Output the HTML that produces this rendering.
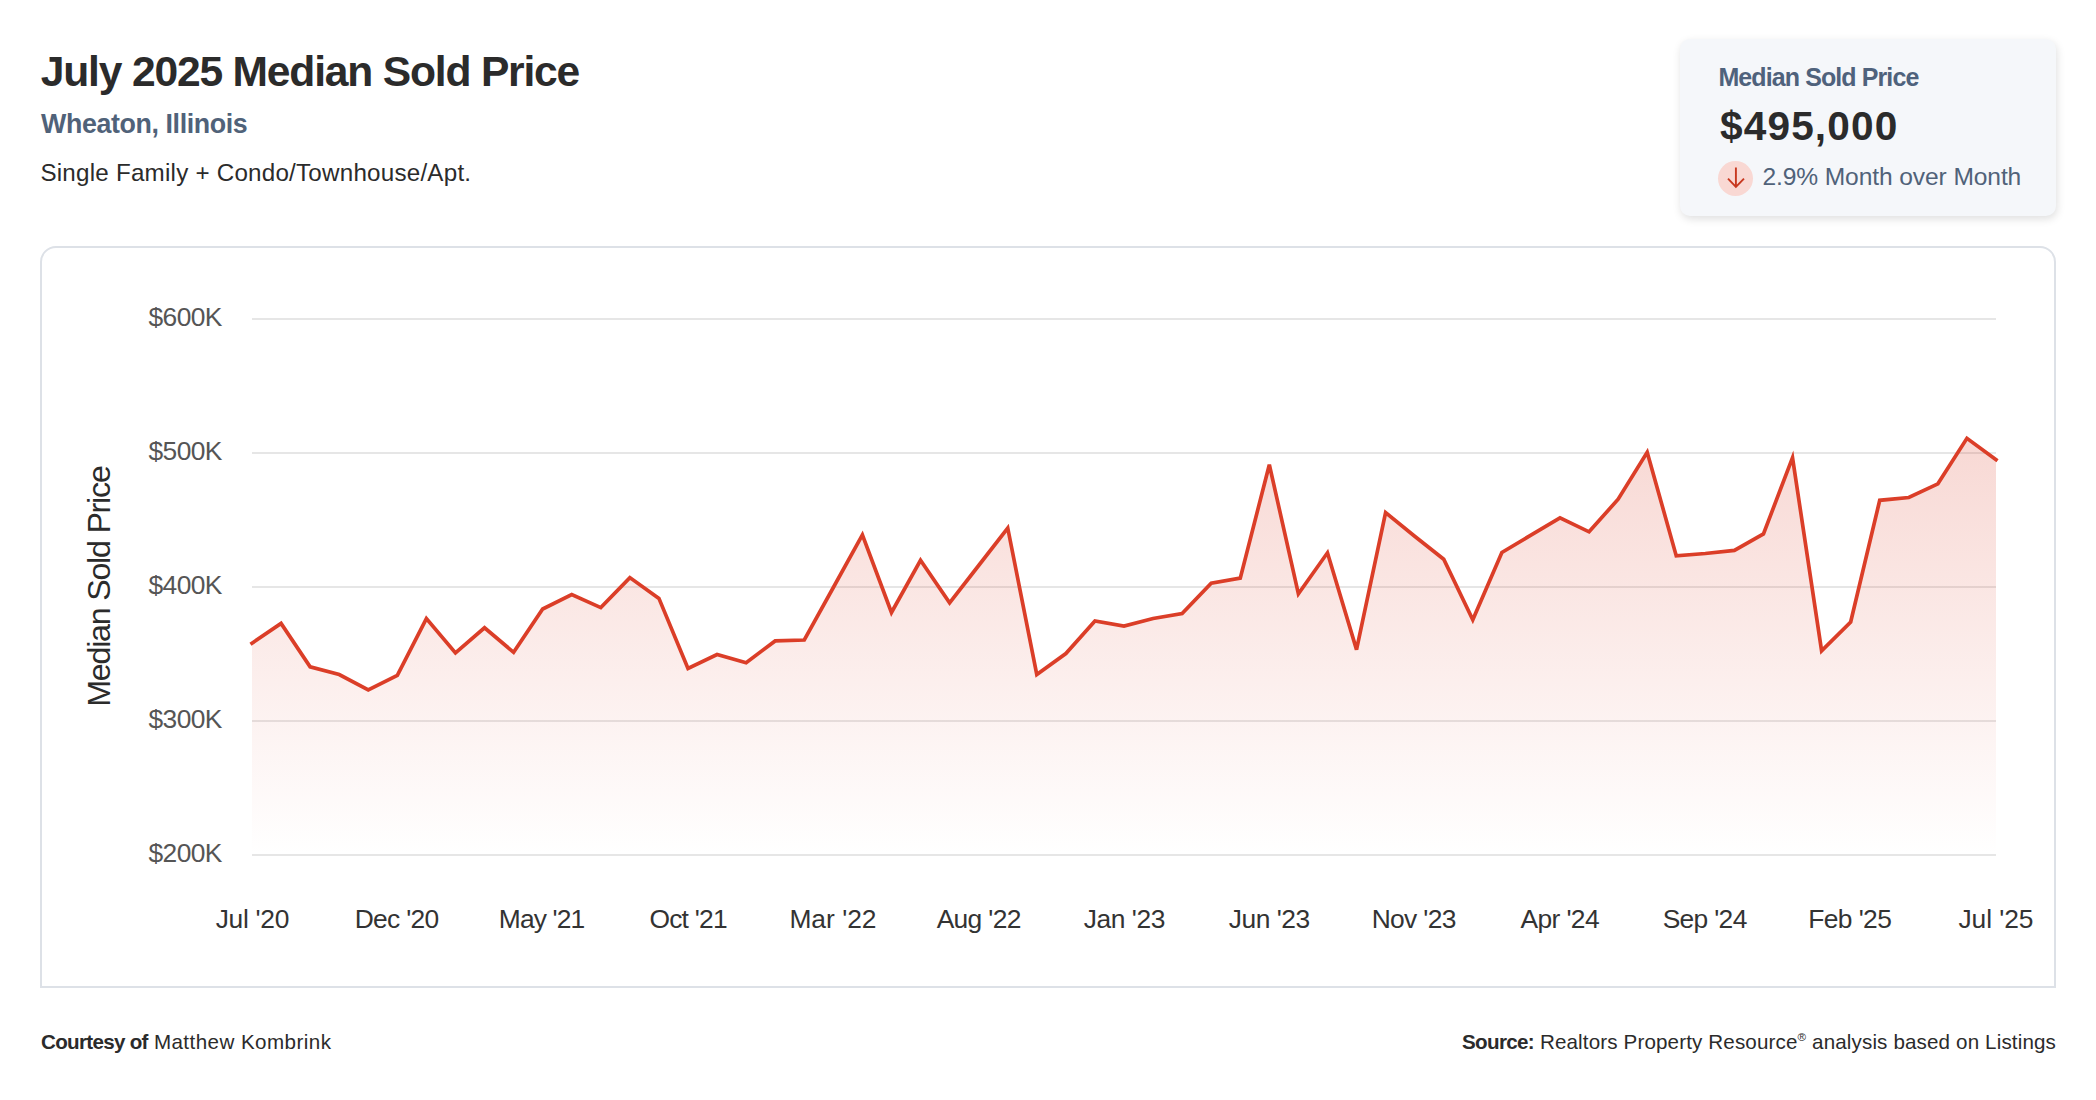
<!DOCTYPE html>
<html lang="en">
<head>
<meta charset="utf-8">
<title>July 2025 Median Sold Price - Wheaton, Illinois</title>
<style>
html,body{margin:0;padding:0;background:#fff;}
body{width:2096px;height:1100px;position:relative;overflow:hidden;
  font-family:"Liberation Sans",Arial,Helvetica,sans-serif;-webkit-font-smoothing:antialiased;}
.t{position:absolute;white-space:nowrap;margin:0;padding:0;}
#card{position:absolute;left:1680px;top:39px;width:376px;height:177px;
  background:#f5f7fa;border-radius:10px;box-shadow:1px 3px 8px rgba(0,0,0,0.13);}
#chartbox{position:absolute;left:40px;top:246px;width:2016px;height:742px;box-sizing:border-box;
  border:2px solid #dde1e7;border-radius:16px 16px 0 0;background:#fff;}
#badge{position:absolute;width:35px;height:35px;border-radius:50%;background:#f9d8d3;}
svg{position:absolute;left:0;top:0;overflow:visible;}
svg text{font-family:"Liberation Sans",Arial,Helvetica,sans-serif;}
</style>
</head>
<body>

<header>
<div id="title" class="t" style="left:40.80px;top:49.74px;font-size:42.60px;line-height:42.60px;font-weight:700;color:#2b2b2b;letter-spacing:-1.193px;">July 2025 Median Sold Price</div>
<div id="sub" class="t" style="left:41.00px;top:111.11px;font-size:26.80px;line-height:26.80px;font-weight:700;color:#506279;letter-spacing:-0.389px;">Wheaton, Illinois</div>
<div id="ptype" class="t" style="left:40.40px;top:160.61px;font-size:24.20px;line-height:24.20px;font-weight:400;color:#2b2b2b;letter-spacing:0.223px;">Single Family + Condo/Townhouse/Apt.</div>
</header>
<section id="card">
<div id="clabel" class="t" style="left:38.40px;top:25.74px;font-size:25.00px;line-height:25.00px;font-weight:700;color:#4f627c;letter-spacing:-0.900px;">Median Sold Price</div>
<div id="cvalue" class="t" style="left:40.00px;top:67.33px;font-size:40.60px;line-height:40.60px;font-weight:700;color:#2b2b2b;letter-spacing:1.143px;">$495,000</div>
<div id="badge" style="left:38.30px;top:121.80px"><svg width="35" height="35" viewBox="1718.3 160.8 35 35" aria-hidden="true"><path d="M1736.2 167.2 V186.6 M1728.3 178.4 L1736.2 186.6 L1744.3 178.4" fill="none" stroke="#c8381f" stroke-width="1.9" stroke-linecap="butt" stroke-linejoin="miter"/></svg></div>
<div id="cchange" class="t" style="left:82.40px;top:125.68px;font-size:24.60px;line-height:24.60px;font-weight:400;color:#506279;letter-spacing:-0.110px;">2.9% Month over Month</div>
</section>
<main id="chartbox">
<svg id="chart" style="left:-42px;top:-248px" width="2096" height="1100" viewBox="0 0 2096 1100" role="img" aria-label="Median Sold Price chart">
<defs><linearGradient id="g" gradientUnits="userSpaceOnUse" x1="0" y1="439" x2="0" y2="855"><stop offset="0" stop-color="#db3e28" stop-opacity="0.2"/><stop offset="1" stop-color="#db3e28" stop-opacity="0"/></linearGradient></defs>
<line x1="252" x2="1996" y1="319" y2="319" stroke="#e6e6e6" stroke-width="2"/>
<line x1="252" x2="1996" y1="453" y2="453" stroke="#e6e6e6" stroke-width="2"/>
<line x1="252" x2="1996" y1="587" y2="587" stroke="#e6e6e6" stroke-width="2"/>
<line x1="252" x2="1996" y1="721" y2="721" stroke="#e6e6e6" stroke-width="2"/>
<line x1="252" x2="1996" y1="855" y2="855" stroke="#e6e6e6" stroke-width="2"/>
<path d="M252.00 643.20 L281.07 623.40 L310.13 666.90 L339.20 674.50 L368.27 690.00 L397.33 675.40 L426.40 618.60 L455.47 652.90 L484.53 627.80 L513.60 652.30 L542.67 609.00 L571.73 594.50 L600.80 607.60 L629.87 577.60 L658.93 598.40 L688.00 668.40 L717.07 654.50 L746.13 662.70 L775.20 640.90 L804.27 640.00 L833.33 587.50 L862.40 534.80 L891.47 612.50 L920.53 560.30 L949.60 602.80 L978.67 565.50 L1007.73 528.00 L1036.80 674.60 L1065.87 653.60 L1094.93 620.90 L1124.00 626.00 L1153.07 618.50 L1182.13 613.60 L1211.20 583.30 L1240.27 578.10 L1269.33 464.70 L1298.40 593.80 L1327.47 552.80 L1356.53 649.60 L1385.60 512.60 L1414.67 536.20 L1443.73 559.20 L1472.80 619.70 L1501.87 552.50 L1530.93 535.10 L1560.00 517.80 L1589.07 531.80 L1618.13 499.20 L1647.20 452.20 L1676.27 555.90 L1705.33 553.50 L1734.40 550.40 L1763.47 533.90 L1792.53 457.70 L1821.60 650.90 L1850.67 622.00 L1879.73 500.30 L1908.80 497.50 L1937.87 483.80 L1966.93 438.30 L1996.00 459.60 L1996.00 855 L252.00 855 Z" fill="url(#g)" stroke="none"/>
<path d="M252.00 643.20 L281.07 623.40 L310.13 666.90 L339.20 674.50 L368.27 690.00 L397.33 675.40 L426.40 618.60 L455.47 652.90 L484.53 627.80 L513.60 652.30 L542.67 609.00 L571.73 594.50 L600.80 607.60 L629.87 577.60 L658.93 598.40 L688.00 668.40 L717.07 654.50 L746.13 662.70 L775.20 640.90 L804.27 640.00 L833.33 587.50 L862.40 534.80 L891.47 612.50 L920.53 560.30 L949.60 602.80 L978.67 565.50 L1007.73 528.00 L1036.80 674.60 L1065.87 653.60 L1094.93 620.90 L1124.00 626.00 L1153.07 618.50 L1182.13 613.60 L1211.20 583.30 L1240.27 578.10 L1269.33 464.70 L1298.40 593.80 L1327.47 552.80 L1356.53 649.60 L1385.60 512.60 L1414.67 536.20 L1443.73 559.20 L1472.80 619.70 L1501.87 552.50 L1530.93 535.10 L1560.00 517.80 L1589.07 531.80 L1618.13 499.20 L1647.20 452.20 L1676.27 555.90 L1705.33 553.50 L1734.40 550.40 L1763.47 533.90 L1792.53 457.70 L1821.60 650.90 L1850.67 622.00 L1879.73 500.30 L1908.80 497.50 L1937.87 483.80 L1966.93 438.30 L1996.00 459.60" fill="none" stroke="#db3e28" stroke-width="3.7" stroke-linejoin="miter" stroke-miterlimit="3.986" stroke-linecap="square"/>
<text id="yt0" x="221.65" y="325.60" text-anchor="end" font-size="26.4" fill="#555555" letter-spacing="-0.650">$600K</text>
<text id="yt1" x="221.65" y="459.60" text-anchor="end" font-size="26.4" fill="#555555" letter-spacing="-0.650">$500K</text>
<text id="yt2" x="221.65" y="593.60" text-anchor="end" font-size="26.4" fill="#555555" letter-spacing="-0.650">$400K</text>
<text id="yt3" x="221.65" y="727.60" text-anchor="end" font-size="26.4" fill="#555555" letter-spacing="-0.650">$300K</text>
<text id="yt4" x="221.65" y="861.60" text-anchor="end" font-size="26.4" fill="#555555" letter-spacing="-0.650">$200K</text>
<text id="xl0" x="252.35" y="927.9" text-anchor="middle" font-size="26.4" fill="#333333" letter-spacing="-0.299">Jul '20</text>
<text id="xl1" x="396.64" y="927.9" text-anchor="middle" font-size="26.4" fill="#333333" letter-spacing="-0.667">Dec '20</text>
<text id="xl2" x="541.59" y="927.9" text-anchor="middle" font-size="26.4" fill="#333333" letter-spacing="-0.868">May '21</text>
<text id="xl3" x="688.12" y="927.9" text-anchor="middle" font-size="26.4" fill="#333333" letter-spacing="-0.767">Oct '21</text>
<text id="xl4" x="832.97" y="927.9" text-anchor="middle" font-size="26.4" fill="#333333" letter-spacing="0.000">Mar '22</text>
<text id="xl5" x="978.69" y="927.9" text-anchor="middle" font-size="26.4" fill="#333333" letter-spacing="-0.667">Aug '22</text>
<text id="xl6" x="1124.28" y="927.9" text-anchor="middle" font-size="26.4" fill="#333333" letter-spacing="-0.434">Jan '23</text>
<text id="xl7" x="1269.22" y="927.9" text-anchor="middle" font-size="26.4" fill="#333333" letter-spacing="-0.500">Jun '23</text>
<text id="xl8" x="1413.69" y="927.9" text-anchor="middle" font-size="26.4" fill="#333333" letter-spacing="-0.667">Nov '23</text>
<text id="xl9" x="1559.70" y="927.9" text-anchor="middle" font-size="26.4" fill="#333333" letter-spacing="-0.601">Apr '24</text>
<text id="xl10" x="1704.64" y="927.9" text-anchor="middle" font-size="26.4" fill="#333333" letter-spacing="-0.667">Sep '24</text>
<text id="xl11" x="1849.73" y="927.9" text-anchor="middle" font-size="26.4" fill="#333333" letter-spacing="-0.599">Feb '25</text>
<text id="xl12" x="1995.97" y="927.9" text-anchor="middle" font-size="26.4" fill="#333333" letter-spacing="-0.066">Jul '25</text>
<text id="ytitle" transform="translate(110.4 586.6125) rotate(-90)" text-anchor="middle" font-size="32.2" fill="#2b2b2b" letter-spacing="-1.225">Median Sold Price</text>
</svg>
</main>
<footer>
<div id="fl" class="t" style="left:41.00px;top:1032.26px;font-size:20.60px;line-height:20.60px;font-weight:400;color:#2b2b2b;letter-spacing:0.436px;"><b style="letter-spacing:-0.700px">Courtesy of</b> Matthew Kombrink</div>
<div id="fr" class="t" style="left:0.00px;top:1032.26px;font-size:20.60px;line-height:20.60px;font-weight:400;color:#2b2b2b;letter-spacing:0.135px;left:auto;right:40px;"><b style="letter-spacing:-0.667px">Source:</b> Realtors Property Resource<sup style="font-size:11.6px;line-height:0;vertical-align:7.6px">&reg;</sup> analysis based on Listings</div>
</footer>
</body>
</html>
